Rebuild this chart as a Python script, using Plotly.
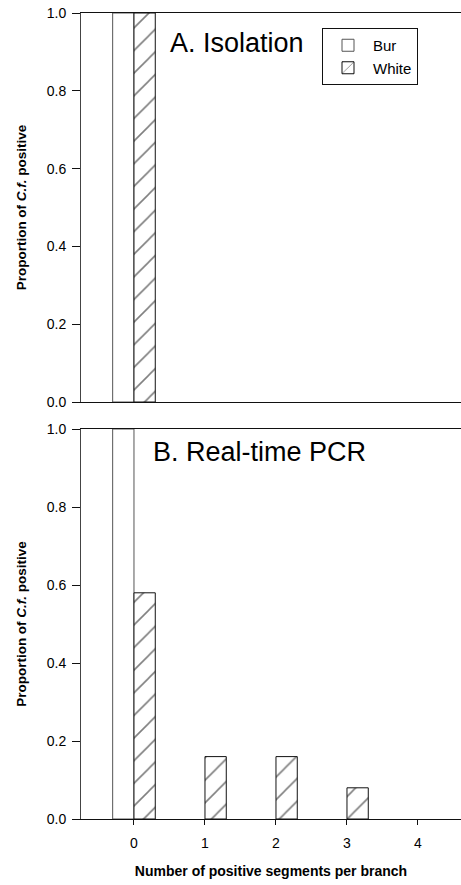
import plotly.graph_objects as go
from plotly.subplots import make_subplots

categories = [0, 1, 2, 3, 4]
tick_labels = ["0", "1", "2", "3", "4"]
iso_bur = [1.0, 0, 0, 0, 0]
iso_white = [1.0, 0, 0, 0, 0]
pcr_bur = [1.0, 0, 0, 0, 0]
pcr_white = [0.58, 0.16, 0.16, 0.08, 0]
series_names = ["Bur", "White"]
panel_titles = ["A. Isolation", "B. Real-time PCR"]

FONT = "Liberation Sans, Arial, sans-serif"
W, H = 461, 885
ML, MR, MT, MB = 81, 0, 13, 66
ph = H - MT - MB


def nz(vals):
    # zero-height bars are not drawn in the reference
    return [v if v else None for v in vals]


fig = make_subplots(rows=2, cols=1, vertical_spacing=0)

bur_style = dict(marker=dict(color="white", line=dict(color="#555555", width=1)))
white_style = dict(marker=dict(color="white", line=dict(color="#111111", width=1),
                               pattern=dict(shape="/", size=16, solidity=0.1,
                                            fgcolor="#000000", bgcolor="white")))

fig.add_trace(go.Bar(x=categories, y=nz(iso_bur), name=series_names[0], legendgroup="b",
                     **bur_style), row=1, col=1)
fig.add_trace(go.Bar(x=categories, y=nz(iso_white), name=series_names[1], legendgroup="w",
                     **white_style), row=1, col=1)
fig.add_trace(go.Bar(x=categories, y=nz(pcr_bur), name=series_names[0], legendgroup="b",
                     showlegend=False, **bur_style), row=2, col=1)
fig.add_trace(go.Bar(x=categories, y=nz(pcr_white), name=series_names[1], legendgroup="w",
                     showlegend=False, **white_style), row=2, col=1)

top_dom = [(H - MB - 402) / ph, 1.0]
bot_dom = [0.0, (H - MB - 429) / ph]

xcommon = dict(range=[-0.746, 4.606], showline=True, linecolor="#111111", linewidth=1,
               mirror=True, showgrid=False, zeroline=False, tickvals=categories,
               ticktext=tick_labels, tickfont=dict(family=FONT, size=14, color="black"))
fig.update_xaxes(**xcommon, row=1, col=1, showticklabels=False, ticks="")
fig.update_xaxes(**xcommon, row=2, col=1, ticks="outside", ticklen=5, tickcolor="#111111",
                 ticklabelstandoff=6,
                 title=dict(text="<b>Number of positive segments per branch</b>",
                            font=dict(family=FONT, size=14, color="black"), standoff=16))

ycommon = dict(range=[0, 1], showline=True, linecolor="#444444", linewidth=1, mirror=False,
               showgrid=False, zeroline=False, ticks="outside", ticklen=8, tickcolor="#111111",
               ticklabelstandoff=3,
               tickvals=[0, 0.2, 0.4, 0.6, 0.8, 1.0],
               ticktext=["0.0", "0.2", "0.4", "0.6", "0.8", "1.0"],
               tickfont=dict(family=FONT, size=14, color="black"),
               title=dict(text="<b>Proportion of <i>C.f.</i> positive</b>",
                          font=dict(family=FONT, size=13.5, color="black"), standoff=17))
fig.update_yaxes(**ycommon, domain=top_dom, row=1, col=1)
fig.update_yaxes(**ycommon, domain=bot_dom, row=2, col=1)

fig.add_annotation(text=panel_titles[0], xref="paper", yref="paper",
                   x=(168 - ML) / (W - ML - MR), y=1 - (43 - MT) / ph,
                   xanchor="left", yanchor="middle", showarrow=False,
                   font=dict(family=FONT, size=27, color="black"))
fig.add_annotation(text=panel_titles[1], xref="paper", yref="paper",
                   x=(151 - ML) / (W - ML - MR), y=1 - (452 - MT) / ph,
                   xanchor="left", yanchor="middle", showarrow=False,
                   font=dict(family=FONT, size=27, color="black"))

fig.update_layout(
    width=W, height=H,
    margin=dict(l=ML, r=MR, t=MT, b=MB, pad=0),
    paper_bgcolor="white", plot_bgcolor="white",
    barmode="group", bargap=0.4, bargroupgap=0,
    showlegend=True,
    legend=dict(x=(322 - ML) / (W - ML - MR), y=1 - (28 - MT) / ph,
                xanchor="left", yanchor="top", bordercolor="#111111", borderwidth=1,
                bgcolor="white", font=dict(family=FONT, size=15, color="black"),
                itemwidth=40, tracegroupgap=0),
    font=dict(family=FONT, color="black"),
)

fig.write_html("out.html")
